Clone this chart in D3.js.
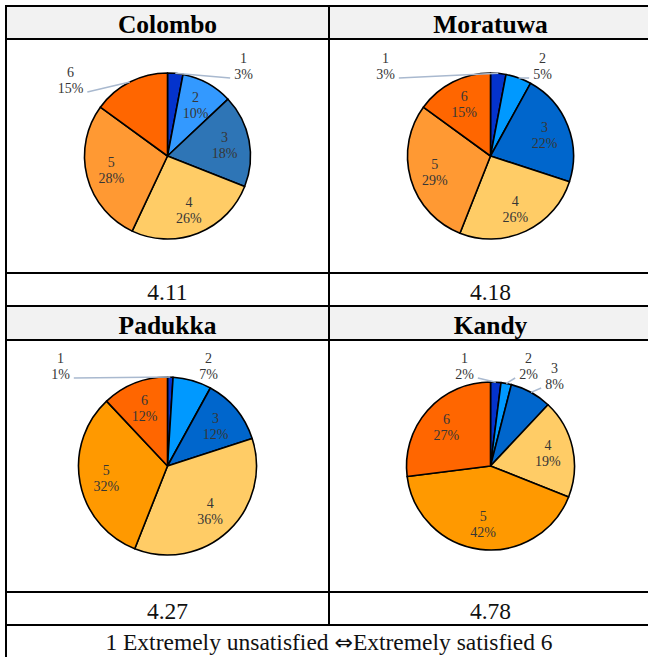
<!DOCTYPE html>
<html>
<head>
<meta charset="utf-8">
<script src="https://cdn.jsdelivr.net/npm/d3@7/dist/d3.min.js"></script>
<style>
  html, body { margin: 0; padding: 0; background: #fff; }
  svg { display: block; }
  svg text { font-family: "Liberation Serif", "Times New Roman", Times, serif; }
</style>
</head>
<body>
<svg id="chart" width="648" height="657"></svg>
<script>
// Satisfaction ratings (1 = extremely unsatisfied … 6 = extremely satisfied), % of respondents
const cities = ["Colombo", "Moratuwa", "Padukka", "Kandy"];
const ratings = ["1", "2", "3", "4", "5", "6"];
const colomboShares = [3, 10, 18, 26, 28, 15];
const moratuwaShares = [3, 5, 22, 26, 29, 15];
const padukkaShares = [1, 7, 12, 36, 32, 12];
const kandyShares = [2, 2, 8, 19, 42, 27];
const meanScores = ["4.11", "4.18", "4.27", "4.78"];
const scaleNote = ["1 Extremely unsatisfied ", "\u21D4", "Extremely satisfied 6"];

const shares = [colomboShares, moratuwaShares, padukkaShares, kandyShares];

// Slice colours per panel
const palettes = [
  ["#0433cc", "#3399ff", "#2e75b6", "#ffcc66", "#ff9933", "#ff6600"],
  ["#0433cc", "#0099ff", "#0066cc", "#ffcc66", "#ff9933", "#ff6600"],
  ["#0433cc", "#0099ff", "#0066cc", "#ffcc66", "#ff9900", "#ff6600"],
  ["#0433cc", "#0099ff", "#0066cc", "#ffcc66", "#ff9900", "#ff6600"]
];

// Table geometry
const colX = [6, 329, 652];
const blocks = [
  { head: [6, 39], pie: [39, 273], value: [273, 306] },
  { head: [306, 340], pie: [340, 592], value: [592, 625] }
];
const footer = [625, 690];

// Panel layout: pie radius and labels drawn outside the pie (offset from centre)
const panels = [
  { col: 0, row: 0, r: 83, outside: { 0: [76, -90, true], 5: [-97, -76, true] } },
  { col: 1, row: 0, r: 83, outside: { 0: [-105, -90, true], 1: [52, -90, true] } },
  { col: 0, row: 1, r: 89, outside: { 0: [-107, -100, true], 1: [41, -100, false] } },
  { col: 1, row: 1, r: 84, outside: { 0: [-26, -100, true], 1: [38, -100, true], 2: [64, -90, true] } }
];

const svg = d3.select("#chart");

// Header backgrounds
blocks.forEach(b => {
  svg.append("rect")
    .attr("x", colX[0]).attr("y", b.head[0])
    .attr("width", colX[2] - colX[0]).attr("height", b.head[1] - b.head[0])
    .attr("fill", "#f2f2f2");
});

const pie = d3.pie().sort(null).value(d => d);

panels.forEach((p, i) => {
  const b = blocks[p.row];
  const x0 = colX[p.col], x1 = colX[p.col + 1];
  const cx = (x0 + x1) / 2;
  const cy = (b.pie[0] + b.pie[1]) / 2;

  // City header
  svg.append("text")
    .attr("x", cx).attr("y", b.head[1] - 6)
    .attr("text-anchor", "middle")
    .attr("font-weight", "bold").attr("font-size", 25.5)
    .attr("fill", "#000")
    .text(cities[i]);

  // Mean score
  svg.append("text")
    .attr("x", cx).attr("y", b.value[1] - 6)
    .attr("text-anchor", "middle")
    .attr("font-size", 23.5)
    .attr("fill", "#111")
    .text(meanScores[i]);

  const g = svg.append("g").attr("transform", `translate(${cx},${cy})`);
  const arcs = pie(shares[i]);
  const arc = d3.arc().innerRadius(0).outerRadius(p.r);
  const labelArc = d3.arc().innerRadius(p.r * 0.7).outerRadius(p.r * 0.7);

  g.selectAll("path.slice")
    .data(arcs)
    .join("path")
    .attr("class", "slice")
    .attr("d", arc)
    .attr("fill", (d, k) => palettes[i][k])
    .attr("stroke", "#000")
    .attr("stroke-width", 1.6)
    .attr("stroke-linejoin", "round");

  const leaders = g.append("g");

  arcs.forEach((d, k) => {
    const out = p.outside[k];
    const pos = out ? [out[0], out[1]] : labelArc.centroid(d);
    const t = g.append("text")
      .attr("text-anchor", "middle")
      .attr("font-size", 14)
      .attr("fill", "#363636");
    t.append("tspan").attr("x", pos[0]).attr("y", pos[1] - 3).text(ratings[k]);
    const pct = t.append("tspan").attr("x", pos[0]).attr("y", pos[1] + 13).text(d.data + "%");

    if (out && out[2]) {
      const mid = (d.startAngle + d.endAngle) / 2;
      const ex = Math.sin(mid) * p.r;
      const ey = -Math.cos(mid) * p.r;
      const half = pct.node().getComputedTextLength() / 2;
      const side = ex < pos[0] ? -1 : 1;
      const lx = pos[0] + side * (half + 4);
      const ly = pos[1] + 12;
      leaders.append("line")
        .attr("x1", ex).attr("y1", ey)
        .attr("x2", lx).attr("y2", ly)
        .attr("stroke", "#a9b9cf").attr("stroke-width", 1.5);
    }
  });
});

// Rating scale note
const note = svg.append("text")
  .attr("x", (colX[0] + colX[2]) / 2).attr("y", 650)
  .attr("text-anchor", "middle")
  .attr("font-size", 23.5)
  .attr("fill", "#111");
note.append("tspan").text(scaleNote[0]);
note.append("tspan").style("font-family", "'DejaVu Sans', sans-serif").attr("font-size", 22).text(scaleNote[1]);
note.append("tspan").text(scaleNote[2]);

// Table rules
const rules = svg.append("g").attr("stroke", "#000").attr("stroke-width", 2);
const hLines = [6, 39, 273, 306, 340, 592, 625];
hLines.forEach(y => {
  rules.append("line").attr("x1", colX[0] - 1).attr("x2", colX[2] + 1).attr("y1", y).attr("y2", y);
});
rules.append("line").attr("x1", colX[0]).attr("x2", colX[0]).attr("y1", 5).attr("y2", footer[1]);
rules.append("line").attr("x1", colX[1]).attr("x2", colX[1]).attr("y1", 5).attr("y2", footer[0]);
rules.append("line").attr("x1", colX[2]).attr("x2", colX[2]).attr("y1", 5).attr("y2", footer[1]);
</script>
</body>
</html>
